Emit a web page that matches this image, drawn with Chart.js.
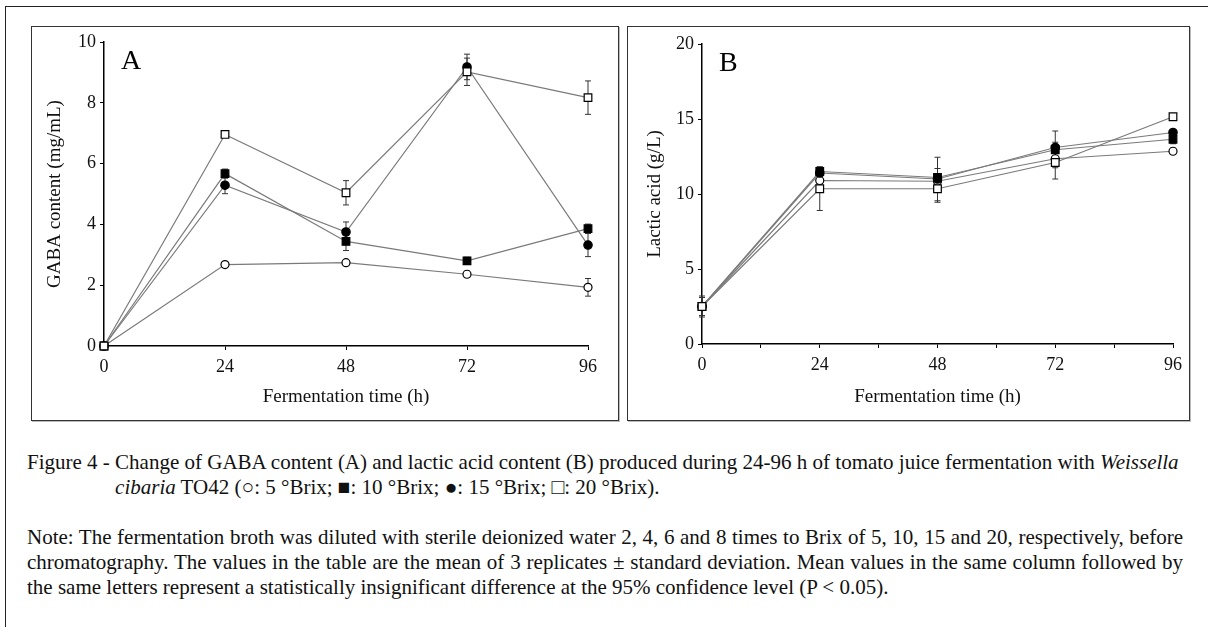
<!DOCTYPE html>
<html>
<head>
<meta charset="utf-8">
<script src="https://cdn.jsdelivr.net/npm/chart.js@4.4.1/dist/chart.umd.min.js"></script>
<style>
  body { margin: 0; background: #fff; width: 1208px; height: 627px; position: relative; overflow: hidden;
         font-family: 'Liberation Serif', 'Times New Roman', serif; color: #111; }
  .outer { position: absolute; left: 5px; top: 6px; width: 1210px; height: 630px;
           border-top: 1.5px solid #222; border-left: 1.5px solid #222; }
  .panel { position: absolute; border: 1.5px solid #333; box-shadow: 1px 1px 0 #bbb; }
  .panel canvas { position: absolute; left: 0; top: 0; }
  .cap { position: absolute; left: 27px; font-size: 21px; line-height: 25px; white-space: nowrap; }
  .just { width: 1156px; text-align: justify; text-align-last: justify; white-space: normal; }
</style>
</head>
<body>
<div class="outer"></div>
<div class="panel" style="left:31px; top:26px; width:586px; height:393px;"><canvas id="chartA" width="586" height="393"></canvas></div>
<div class="panel" style="left:627px; top:26px; width:561px; height:393px;"><canvas id="chartB" width="561" height="393"></canvas></div>

<div class="cap" style="top:450px;"><span id="lead">Figure 4 - </span>Change of GABA content (A) and lactic acid content (B) produced during 24-96 h of tomato juice fermentation with <i>Weissella</i></div>
<div class="cap" id="hang" style="top:475px; left:115px;"><i>cibaria</i> TO42 (○: 5 °Brix; ■: 10 °Brix; ●: 15 °Brix; □: 20 °Brix).</div>
<div class="cap just" style="top:525px;">Note: The fermentation broth was diluted with sterile deionized water 2, 4, 6 and 8 times to Brix of 5, 10, 15 and 20, respectively, before</div>
<div class="cap just" style="top:550px;">chromatography. The values in the table are the mean of 3 replicates ± standard deviation. Mean values in the same column followed by</div>
<div class="cap" style="top:575px;">the same letters represent a statistically insignificant difference at the 95% confidence level (P &lt; 0.05).</div>

<script>
// sampling times (h)
const hours = [0, 24, 48, 72, 96];
const brixNames = ['5 °Brix', '10 °Brix', '15 °Brix', '20 °Brix'];

// GABA content (mg/mL)
const gaba5 = [0, 2.68, 2.74, 2.36, 1.93];
const gaba10 = [0, 5.67, 3.44, 2.80, 3.86];
const gaba15 = [0, 5.29, 3.75, 9.18, 3.32];
const gaba20 = [0, 6.96, 5.04, 9.02, 8.17];
const gabaErr5 = [0.05, 0.1, 0.08, 0.1, 0.29];
const gabaErr10 = [0.05, 0.15, 0.3, 0.12, 0.15];
const gabaErr15 = [0.05, 0.28, 0.33, 0.42, 0.38];
const gabaErr20 = [0.05, 0.1, 0.4, 0.45, 0.55];

// lactic acid (g/L)
const lactic5 = [2.5, 10.9, 10.85, 12.35, 12.85];
const lactic10 = [2.5, 11.5, 11.1, 12.95, 13.65];
const lactic15 = [2.5, 11.4, 11.0, 13.1, 14.1];
const lactic20 = [2.5, 10.35, 10.35, 12.1, 15.15];
const lacticErr5 = [0.6, 0.5, 0.5, 0.6, 0.2];
const lacticErr10 = [0.6, 0.3, 0.6, 0.5, 0.3];
const lacticErr15 = [0.6, 0.4, 1.45, 1.1, 0.2];
const lacticErr20 = [0.7, 1.45, 0.9, 1.1, 0.2];

const gabaTicks = [0, 2, 4, 6, 8, 10];
const lacticTicks = [0, 5, 10, 15, 20];

// line 2 of the caption hangs under "Change"
document.getElementById('hang').style.left = (27 + document.getElementById('lead').getBoundingClientRect().width) + 'px';

const serif = 'Liberation Serif';
Chart.defaults.font.family = serif;
Chart.defaults.color = '#111';

// marker look for each Brix level
const markers = [
    { pointStyle: 'circle', fill: '#fff', radius: 4 },
    { pointStyle: 'rect', fill: '#000', radius: 5.4 },
    { pointStyle: 'circle', fill: '#000', radius: 4.2 },
    { pointStyle: 'rect', fill: '#fff', radius: 5.4 }
];

function makeSets(series, errors) {
    return series.map((vals, i) => ({
        label: brixNames[i],
        data: hours.map((h, j) => ({ x: h, y: vals[j] })),
        errors: errors[i],
        showLine: true,
        clip: false,
        borderColor: '#7a7a7a',
        borderWidth: 1.2,
        pointStyle: markers[i].pointStyle,
        pointRadius: markers[i].radius,
        pointBackgroundColor: markers[i].fill,
        pointBorderColor: '#000',
        pointBorderWidth: 1.2,
        order: 4 - i
    }));
}

const errorBars = {
    id: 'errorBars',
    beforeDatasetsDraw(chart) {
        const ctx = chart.ctx;
        const xs = chart.scales.x, ys = chart.scales.y;
        ctx.save();
        ctx.strokeStyle = '#333';
        ctx.lineWidth = 1;
        chart.data.datasets.forEach(ds => {
            ds.data.forEach((p, j) => {
                const e = ds.errors[j];
                const px = xs.getPixelForValue(p.x);
                const top = ys.getPixelForValue(p.y + e);
                const bot = ys.getPixelForValue(p.y - e);
                ctx.beginPath();
                ctx.moveTo(px, top); ctx.lineTo(px, bot);
                ctx.moveTo(px - 3, top); ctx.lineTo(px + 3, top);
                ctx.moveTo(px - 3, bot); ctx.lineTo(px + 3, bot);
                ctx.stroke();
            });
        });
        ctx.restore();
    }
};

const panelLetter = {
    id: 'panelLetter',
    afterDraw(chart, args, opts) {
        const ctx = chart.ctx;
        ctx.save();
        ctx.font = '28px ' + serif;
        ctx.fillStyle = '#000';
        ctx.textBaseline = 'alphabetic';
        ctx.fillText(opts.text, chart.chartArea.left + opts.dx, chart.chartArea.top + opts.dy);
        ctx.restore();
    }
};

function makeChart(id, sets, yMax, yStep, yTitle, xStep, letter, pad, yWidth, xHeight) {
    return new Chart(document.getElementById(id), {
        type: 'scatter',
        data: { datasets: sets },
        plugins: [errorBars, panelLetter],
        options: {
            responsive: false,
            animation: false,
            devicePixelRatio: 1,
            layout: { padding: pad },
            plugins: {
                legend: { display: false },
                tooltip: { enabled: false },
                panelLetter: { text: letter, dx: 17, dy: 27 }
            },
            scales: {
                x: {
                    type: 'linear', min: 0, max: 96,
                    afterFit: s => { s.height = xHeight; },
                    ticks: {
                        stepSize: xStep, padding: 6,
                        font: { size: 18 }, color: '#111',
                        callback: v => (v % 24 === 0 ? v : '')
                    },
                    grid: { display: true, drawOnChartArea: false, drawTicks: true, tickLength: 4, color: '#000' },
                    border: { display: true, color: '#000', width: 1.5 },
                    title: { display: true, text: 'Fermentation time (h)', font: { size: 19 }, color: '#111', padding: { top: 8 } }
                },
                y: {
                    min: 0, max: yMax,
                    afterFit: s => { s.width = yWidth; },
                    ticks: { stepSize: yStep, padding: 4, font: { size: 18 }, color: '#111' },
                    grid: { display: true, drawOnChartArea: false, drawTicks: true, tickLength: 4, color: '#000' },
                    border: { display: true, color: '#000', width: 1.5 },
                    title: { display: true, text: yTitle, font: { size: 19 }, color: '#111', padding: { bottom: 2 } }
                }
            }
        }
    });
}

makeChart('chartA',
    makeSets([gaba5, gaba10, gaba15, gaba20], [gabaErr5, gabaErr10, gabaErr15, gabaErr20]),
    gabaTicks[gabaTicks.length - 1], gabaTicks[1], 'GABA content (mg/mL)', 24, 'A',
    { left: 8, top: 15, right: 30, bottom: 8 }, 64, 66);

makeChart('chartB',
    makeSets([lactic5, lactic10, lactic15, lactic20], [lacticErr5, lacticErr10, lacticErr15, lacticErr20]),
    lacticTicks[lacticTicks.length - 1], lacticTicks[1], 'Lactic acid (g/L)', 12, 'B',
    { left: 12, top: 17, right: 16, bottom: 8 }, 62, 68);
</script>
</body>
</html>
